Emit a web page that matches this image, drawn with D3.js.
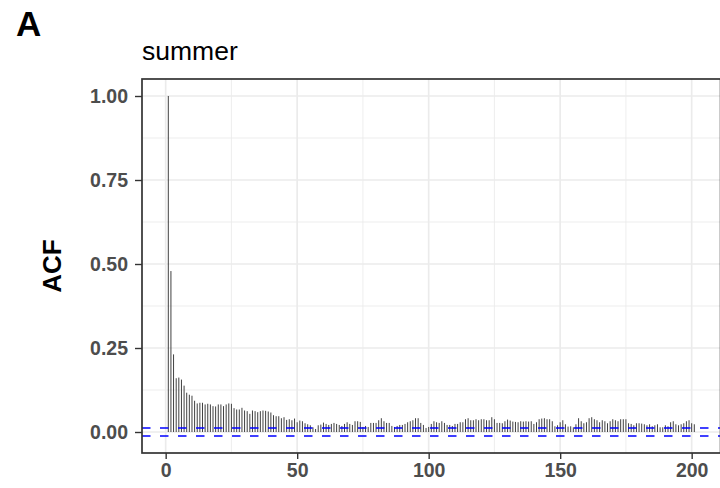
<!DOCTYPE html>
<html lang="en">
<head>
<meta charset="UTF-8">
<title>ACF summer</title>
<style>
  body { margin: 0; background: #fff; }
  text { font-family: "Liberation Sans", Arial, sans-serif; }
</style>
</head>
<body>
<div id="chart"></div>
<script src="https://cdnjs.cloudflare.com/ajax/libs/d3/7.8.5/d3.min.js"></script>
<script>
// ACF values, lag 1..201
var acf = [
  1.000, 0.479, 0.231, 0.160, 0.162, 0.156, 0.138, 0.117, 0.111, 0.108,
  0.093, 0.085, 0.087, 0.087, 0.082, 0.084, 0.082, 0.077, 0.076, 0.082,
  0.082, 0.077, 0.082, 0.085, 0.084, 0.071, 0.067, 0.067, 0.072, 0.064,
  0.062, 0.054, 0.064, 0.062, 0.059, 0.062, 0.064, 0.063, 0.061, 0.058,
  0.050, 0.047, 0.047, 0.041, 0.044, 0.036, 0.038, 0.035, 0.040, 0.029,
  0.034, 0.032, 0.026, 0.023, 0.020, 0.014, 0.009, 0.020, 0.022, 0.028,
  0.024, 0.021, 0.024, 0.027, 0.024, 0.021, 0.018, 0.024, 0.029, 0.024,
  0.021, 0.032, 0.032, 0.030, 0.015, 0.018, 0.015, 0.027, 0.027, 0.027,
  0.035, 0.041, 0.032, 0.027, 0.027, 0.018, 0.015, 0.018, 0.021, 0.021,
  0.024, 0.029, 0.032, 0.035, 0.041, 0.041, 0.027, 0.021, 0.012, 0.015,
  0.024, 0.032, 0.029, 0.027, 0.032, 0.027, 0.021, 0.021, 0.018, 0.024,
  0.024, 0.029, 0.029, 0.038, 0.041, 0.035, 0.035, 0.038, 0.035, 0.038,
  0.038, 0.035, 0.035, 0.044, 0.038, 0.027, 0.027, 0.026, 0.032, 0.037,
  0.034, 0.031, 0.030, 0.029, 0.032, 0.031, 0.032, 0.031, 0.032, 0.024,
  0.029, 0.038, 0.040, 0.041, 0.038, 0.038, 0.032, 0.017, 0.020, 0.029,
  0.035, 0.023, 0.016, 0.017, 0.014, 0.023, 0.041, 0.032, 0.026, 0.029,
  0.041, 0.044, 0.038, 0.035, 0.029, 0.035, 0.032, 0.026, 0.032, 0.038,
  0.035, 0.032, 0.038, 0.038, 0.038, 0.026, 0.024, 0.020, 0.026, 0.026,
  0.025, 0.023, 0.020, 0.023, 0.017, 0.020, 0.023, 0.014, 0.014, 0.020,
  0.017, 0.029, 0.032, 0.023, 0.020, 0.023, 0.026, 0.032, 0.035, 0.026,
  0.023
];
var lags = acf.map(function(d, i) { return i + 1; });
var ci = 0.0119;   // 95% band
var xTicks = [0, 50, 100, 150, 200];
var xMinor = [25, 75, 125, 175];
var yTicks = [0, 0.25, 0.5, 0.75, 1.0];
var yMinor = [0.125, 0.375, 0.625, 0.875];
var panelTitle = "summer";
var tag = "A";
var yLabel = "ACF";

var W = 720, H = 488;
var panel = {left: 142, top: 79, right: 720.6, bottom: 453};

var svg = d3.select("#chart").append("svg")
    .attr("width", W).attr("height", H);

var x = d3.scaleLinear().domain([-9, 211]).range([panel.left, panel.right]);
var y = d3.scaleLinear().domain([-0.0625, 1.0506]).range([panel.bottom, panel.top]);

// grid
var grid = svg.append("g");
grid.selectAll(".xm").data(xMinor).enter().append("line")
    .attr("x1", d => x(d)).attr("x2", d => x(d))
    .attr("y1", panel.top).attr("y2", panel.bottom)
    .attr("stroke", "#ebebeb").attr("stroke-width", 0.9);
grid.selectAll(".ym").data(yMinor).enter().append("line")
    .attr("x1", panel.left).attr("x2", panel.right)
    .attr("y1", d => y(d)).attr("y2", d => y(d))
    .attr("stroke", "#ebebeb").attr("stroke-width", 0.9);
grid.selectAll(".xM").data(xTicks).enter().append("line")
    .attr("x1", d => x(d)).attr("x2", d => x(d))
    .attr("y1", panel.top).attr("y2", panel.bottom)
    .attr("stroke", "#ebebeb").attr("stroke-width", 1.7);
grid.selectAll(".yM").data(yTicks).enter().append("line")
    .attr("x1", panel.left).attr("x2", panel.right)
    .attr("y1", d => y(d)).attr("y2", d => y(d))
    .attr("stroke", "#ebebeb").attr("stroke-width", 1.7);

// acf bars
svg.append("g").selectAll("line")
    .data(acf).enter().append("line")
    .attr("x1", (d, i) => x(lags[i])).attr("x2", (d, i) => x(lags[i]))
    .attr("y1", y(0)).attr("y2", d => y(d))
    .attr("stroke", "#404040").attr("stroke-width", 1);

// confidence band
svg.append("g").selectAll("line")
    .data([ci, -ci]).enter().append("line")
    .attr("x1", panel.left).attr("x2", panel.right)
    .attr("y1", d => y(d)).attr("y2", d => y(d))
    .attr("stroke", "#0000ff").attr("stroke-width", 1.6)
    .attr("stroke-dasharray", "8.5,9.5");

// panel border
svg.append("rect")
    .attr("x", panel.left).attr("y", panel.top)
    .attr("width", panel.right - panel.left).attr("height", panel.bottom - panel.top)
    .attr("fill", "none").attr("stroke", "#333").attr("stroke-width", 1.7);

// axes
function styleAxis(g) {
    g.select(".domain").remove();
    g.selectAll(".tick line").attr("stroke", "#333").attr("stroke-width", 1.4);
    g.selectAll(".tick text")
        .attr("fill", "#4d4d4d")
        .style("font-family", "'Liberation Sans', Arial, sans-serif")
        .style("font-weight", "bold").style("font-size", "19.5px");
}

svg.append("g").attr("transform", "translate(0," + panel.bottom + ")")
    .call(d3.axisBottom(x).tickValues(xTicks).tickFormat(d3.format("d")).tickSize(6).tickPadding(4))
    .call(styleAxis);

svg.append("g").attr("transform", "translate(" + panel.left + ",0)")
    .call(d3.axisLeft(y).tickValues(yTicks).tickFormat(d3.format(".2f")).tickSize(7).tickPadding(7))
    .call(styleAxis);

// titles
svg.append("text").attr("x", 16).attr("y", 36).text(tag)
    .style("font-size", "35px").style("font-weight", "bold").attr("fill", "#000");
svg.append("text").attr("x", 142).attr("y", 59.5).text(panelTitle)
    .style("font-size", "26.5px").attr("fill", "#000");
svg.append("text")
    .attr("transform", "translate(61,266) rotate(-90)")
    .attr("text-anchor", "middle")
    .text(yLabel)
    .style("font-size", "26px").style("font-weight", "bold").attr("fill", "#000");
</script>
</body>
</html>
